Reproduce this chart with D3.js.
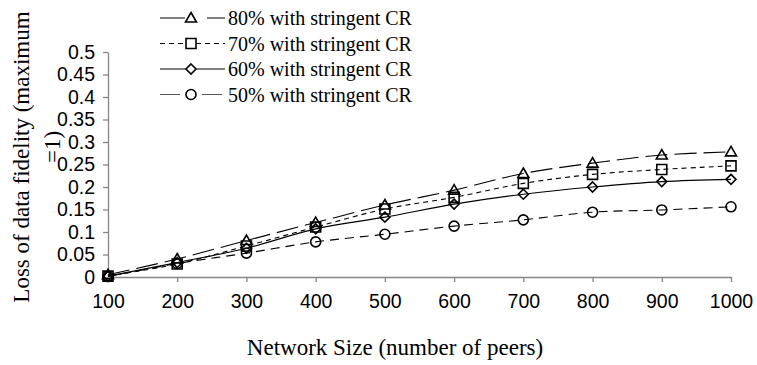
<!DOCTYPE html>
<html>
<head>
<meta charset="utf-8">
<script src="https://cdn.jsdelivr.net/npm/d3@7"></script>
<style>
  body { margin: 0; background: #fff; }
  svg { display: block; }
</style>
</head>
<body>
<div id="chart"></div>
<script>
// data
const sizes = [100, 200, 300, 400, 500, 600, 700, 800, 900, 1000];
const seriesNames = ["80% with stringent CR", "70% with stringent CR", "60% with stringent CR", "50% with stringent CR"];
const s80 = [0.005, 0.04, 0.081, 0.121, 0.16, 0.193, 0.23, 0.253, 0.271, 0.278];
const s70 = [0.002, 0.029, 0.069, 0.111, 0.151, 0.177, 0.208, 0.228, 0.239, 0.247];
const s60 = [0.002, 0.032, 0.064, 0.107, 0.133, 0.162, 0.184, 0.2, 0.212, 0.217];
const s50 = [0.001, 0.03, 0.053, 0.078, 0.095, 0.113, 0.127, 0.144, 0.149, 0.156];
const yTicks = [0, 0.05, 0.1, 0.15, 0.2, 0.25, 0.3, 0.35, 0.4, 0.45, 0.5];

const width = 757, height = 365;
const serif = "'Liberation Serif', 'Times New Roman', serif";
const sans = "'Liberation Sans', Arial, sans-serif";

const svg = d3.select("#chart").append("svg")
    .attr("width", width)
    .attr("height", height);

const x = d3.scaleLinear().domain([100, 1000]).range([108, 731]);
const y = d3.scaleLinear().domain([0, 0.5]).range([277, 52]);

// axes
const xAxis = svg.append("g")
    .attr("transform", "translate(0," + y(0) + ")")
    .call(d3.axisBottom(x).tickValues(sizes).tickSize(5).tickPadding(8).tickSizeOuter(0)
        .tickFormat(d => String(d)));
const yAxis = svg.append("g")
    .attr("transform", "translate(" + x(100) + ",0)")
    .call(d3.axisLeft(y).tickValues(yTicks).tickSize(5).tickPadding(8).tickSizeOuter(0)
        .tickFormat(d => String(+d.toFixed(2))));

[xAxis, yAxis].forEach(a => {
    a.select(".domain").attr("stroke", "#858585").attr("stroke-width", 1.3);
    a.selectAll(".tick line").attr("stroke", "#858585").attr("stroke-width", 1.3);
    a.selectAll("text").attr("fill", "#000").style("font-family", sans).style("font-size", "19.5px");
});
xAxis.selectAll("text").attr("dy", "0.9em");

// series styles
const series = [
    { name: seriesNames[0], values: s80, dash: "22,7", legendDash: "25,22", marker: "triangle" },
    { name: seriesNames[1], values: s70, dash: "5,4", legendDash: "5,4", marker: "square" },
    { name: seriesNames[2], values: s60, dash: null, legendDash: null, marker: "diamond" },
    { name: seriesNames[3], values: s50, dash: "9,6", legendDash: "20,22", marker: "circle" }
];

const markerPath = {
    triangle: "M0,-5.5L5.5,4L-5.5,4Z",
    square: "M-5,-5H5V5H-5Z",
    diamond: "M0,-5L5,0L0,5L-5,0Z",
    circle: "M5,0A5,5 0 1,1 -5,0A5,5 0 1,1 5,0Z"
};

const line = d3.line()
    .x((d, i) => x(sizes[i]))
    .y(d => y(d))
    .curve(d3.curveCatmullRom.alpha(0.5));

const plot = svg.append("g");

series.forEach(s => {
    plot.append("path")
        .attr("d", line(s.values))
        .attr("fill", "none")
        .attr("stroke", "#000")
        .attr("stroke-width", 1.1)
        .attr("stroke-dasharray", s.dash);
});

series.forEach(s => {
    plot.selectAll(null)
        .data(s.values)
        .enter().append("path")
        .attr("d", markerPath[s.marker])
        .attr("transform", (d, i) => "translate(" + x(sizes[i]) + "," + y(d) + ")")
        .attr("fill", "none")
        .attr("stroke", "#000")
        .attr("stroke-width", 1.6);
});

// legend
const legend = svg.append("g");
series.forEach((s, i) => {
    const ly = 18 + i * 25.5;
    legend.append("line")
        .attr("x1", 160).attr("x2", 225)
        .attr("y1", ly).attr("y2", ly)
        .attr("stroke", i === 3 ? "#555" : "#000")
        .attr("stroke-width", 1.1)
        .attr("stroke-dasharray", s.legendDash);
    legend.append("path")
        .attr("d", markerPath[s.marker])
        .attr("transform", "translate(191," + ly + ")")
        .attr("fill", "#fff")
        .attr("stroke", "#000")
        .attr("stroke-width", 1.6);
    legend.append("text")
        .attr("x", 228).attr("y", ly)
        .attr("dy", "0.35em")
        .style("font-family", serif)
        .style("font-size", "20px")
        .text(s.name);
});

// axis titles
svg.append("text")
    .attr("x", 395).attr("y", 355)
    .attr("text-anchor", "middle")
    .style("font-family", serif)
    .style("font-size", "23px")
    .text("Network Size (number of peers)");

const yTitle = svg.append("text")
    .attr("transform", "rotate(-90)")
    .attr("text-anchor", "middle")
    .style("font-family", serif)
    .style("font-size", "23px");
yTitle.append("tspan").attr("x", -157).attr("y", 29).text("Loss of data fidelity (maximum");
yTitle.append("tspan").attr("x", -147).attr("y", 60).text("=1)");
</script>
</body>
</html>
